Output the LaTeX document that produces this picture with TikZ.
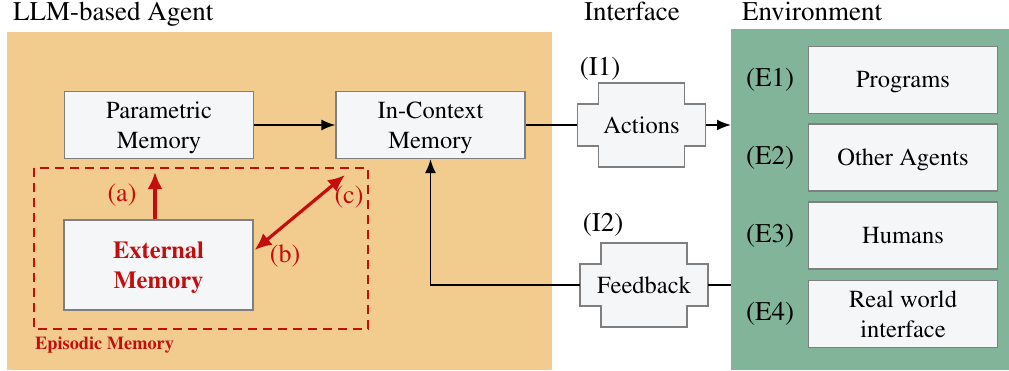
\documentclass[tikz,border=0pt]{standalone}
\usepackage[T1]{fontenc}
\usepackage{mathptmx}
\usetikzlibrary{arrows.meta,calc}
\definecolor{agentbg}{HTML}{F2CB8E}
\definecolor{envbg}{HTML}{82B49A}
\definecolor{boxfill}{HTML}{F5F6F8}
\definecolor{boxline}{HTML}{7F7F7F}
\definecolor{memred}{HTML}{C40E0E}
\newcommand\IfaceShape[2]{%
  \draw[boxline, line width=1.2pt, fill=boxfill]
    ($(#1)+(-64,-21)$) -- ($(#1)+(-43,-21)$) -- ($(#1)+(-43,-42)$) -- ($(#1)+(43,-42)$)
    -- ($(#1)+(43,-21)$) -- ($(#1)+(64,-21)$) -- ($(#1)+(64,21)$) -- ($(#1)+(43,21)$)
    -- ($(#1)+(43,42)$) -- ($(#1)+(-43,42)$) -- ($(#1)+(-43,21)$) -- ($(#1)+(-64,21)$) -- cycle;
  \node[iface] (#2) at (#1) {};
}
\begin{document}
\begin{tikzpicture}[x=1pt,y=-1pt,
  box/.style={draw=boxline, line width=1.2pt, fill=boxfill, minimum width=189pt,
    minimum height=67pt, align=center, inner sep=0pt, text depth=0pt, font=\fontsize{24.5}{30}\selectfont},
  iface/.style={minimum width=128pt, minimum height=42pt, inner sep=0pt, font=\fontsize{24.5}{28}\selectfont},
  title/.style={anchor=base west, inner sep=0pt, font=\fontsize{27}{30}\selectfont},
  lab/.style={inner sep=0pt, font=\fontsize{27}{30}\selectfont},
  redlab/.style={inner sep=0pt, text=memred, font=\fontsize{26}{30}\selectfont},
  flow/.style={line width=1.8pt, -{Latex[length=14pt,width=11pt]}},
  line/.style={line width=1.8pt},
  redarrow/.style={memred, line width=3.2pt, -{Latex[length=17pt,width=15pt]}},
  redboth/.style={memred, line width=3.2pt, {Latex[length=17pt,width=15pt]}-{Latex[length=17pt,width=15pt]}}
]
\useasboundingbox (0,0) rectangle (1009,370);
% backgrounds
\node[fill=agentbg, minimum width=545pt, minimum height=338pt, inner sep=0pt, anchor=north west] (agent) at (7,32) {};
\node[fill=envbg, minimum width=278pt, minimum height=341pt, inner sep=0pt, anchor=north west] (env) at (731,29) {};
% titles
\node[title] (tagent) at (13,20) {LLM-based Agent};
\node[title] (tiface) at (584,20) {Interface};
\node[title] (tenv) at (742,20) {Environment};
% agent boxes
\node[box] (param) at (159,125) {Parametric\\Memory};
\node[box] (ctx) at (430.5,125) {In-Context\\Memory};
\node[box, minimum height=90pt, text=memred, font=\fontsize{24.5}{30}\selectfont\bfseries] (ext) at (158.5,265) {External\\Memory};
% episodic memory
\draw[memred, line width=1.8pt, dash pattern=on 9pt off 6pt] (34,168) rectangle (368,329);
\node[anchor=base west, inner sep=0pt, text=memred, font=\fontsize{18.3}{20}\selectfont\bfseries] (epi) at (35,349) {Episodic Memory};
\coordinate (atip) at (155,172);
\coordinate (ctip) at (345,175);
\draw[redarrow] (ext.north -| atip) -- (atip);
\draw[redboth] ($(ext.east)+(1,-15)$) -- (ctip);
\node[redlab] (la) at (122,195) {(a)};
\node[redlab] (lb) at (285,256) {(b)};
\node[redlab] (lc) at (349,197) {(c)};
% interface
\IfaceShape{641.5,125}{act}
\IfaceShape{644,285}{fb}
\node[iface] at (act) {Actions};
\node[iface] at (fb) {Feedback};
\node[lab] (i1) at (600,69) {(I1)};
\node[lab] (i2) at (603,225) {(I2)};
% environment boxes
\node[box] (e1) at (903,80) {Programs};
\node[box] (e2) at (903,157.5) {Other Agents};
\node[box] (e3) at (903,235.5) {Humans};
\node[box] (e4) at (903,314) {Real world\\interface};
\node[lab] (le1) at (770,80) {(E1)};
\node[lab] (le2) at (770,157.5) {(E2)};
\node[lab] (le3) at (770,235.5) {(E3)};
\node[lab] (le4) at (770,314) {(E4)};
% connectors
\draw[flow] (param.east) -- (ctx.west);
\draw[line] (ctx.east) -- (act.west);
\draw[flow] (act.east) -- (act.east -| env.west);
\draw[line] (fb.east -| env.west) -- (fb.east);
\draw[flow] (fb.west) -- (fb.west -| ctx.south) -- (ctx.south);
\end{tikzpicture}
\end{document}
